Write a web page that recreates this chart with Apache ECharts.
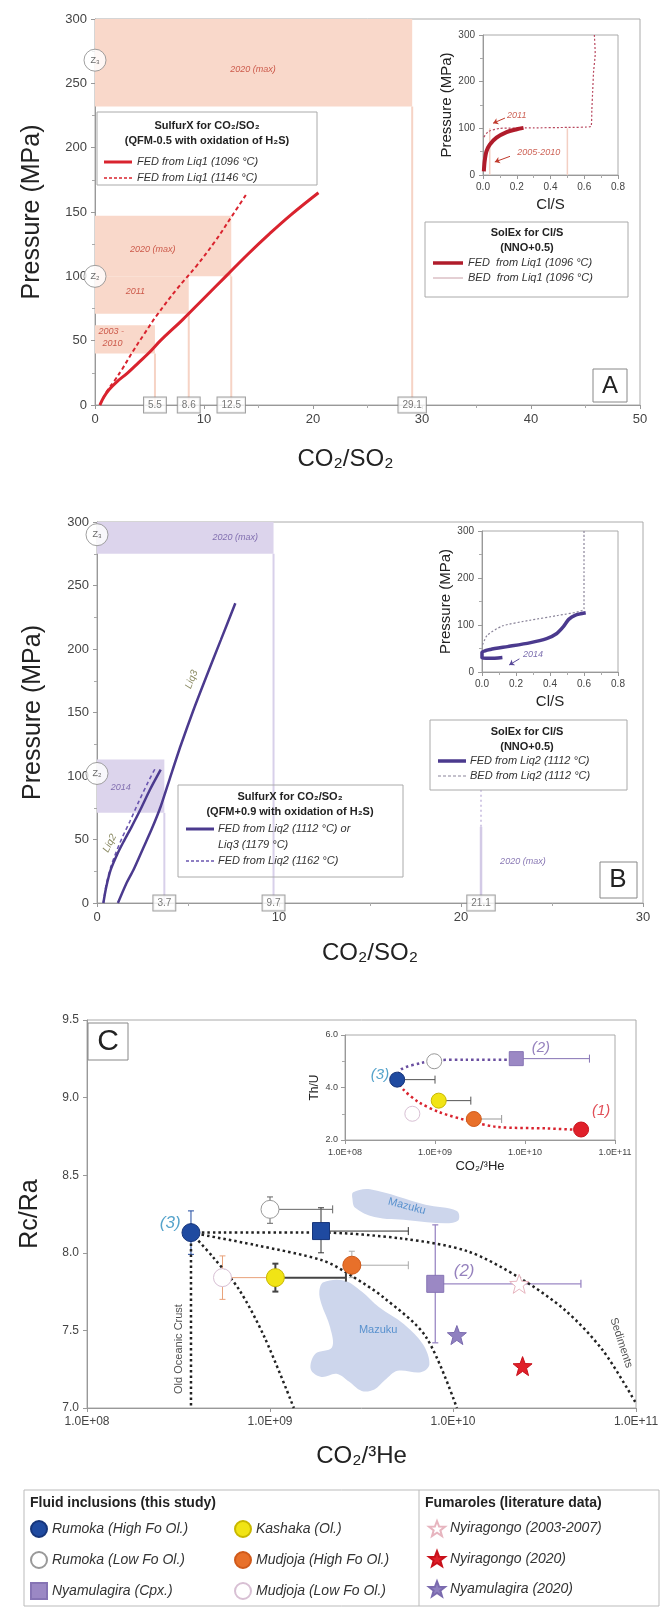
<!DOCTYPE html>
<html>
<head>
<meta charset="utf-8">
<title>SulfurX / SolEx / CO2-3He panels</title>
<script src="https://cdn.jsdelivr.net/npm/echarts@6.0.0/dist/echarts.min.js"></script>
<style>
  html, body { margin: 0; padding: 0; background: #fff; }
  #chart { width: 665px; height: 1608px; }
</style>
</head>
<body>
<div id="chart"></div>
<script>
  var FONT = '"Liberation Sans", Arial, sans-serif';

  // ---------- panel A : SulfurX CO2/SO2 (QFM-0.5) ----------
  var fedLiq1At1096 = [[0.45,0],[0.8,6],[1.3,12],[2,18],[3,25],[4,33],[5,41],[6,50],[8,66],[10,83],[12,100],[14,117],[16,133],[18,148],[20.5,165]];
  var fedLiq1At1146 = [[0.45,0],[0.8,6],[1.2,12],[1.8,19],[2.5,28],[3.5,42],[4.5,55],[5.7,70],[7.5,90],[9.3,108],[11,127],[12.5,146],[13.9,164]];
  // [x0, x1, pLow, pHigh]
  var eruptionBandsA = [[0,29.1,232,300],[0,12.5,100,147],[0,8.6,71,100],[0,5.5,40,62]];
  var ratioTicksA = [5.5, 8.6, 12.5, 29.1];
  var bandNotesA = [['2020 (max)',14.5,261],['2020 (max)',5.3,121],['2011',3.7,88],['2003 -',1.5,57],['2010',1.6,48]];
  var zLevelsA = [['Z₃',0,268],['Z₂',0,100]];

  // panel A inset : SolEx Cl/S
  var solexFedLiq1 = [[0.005,8],[0.01,30],[0.02,50],[0.04,65],[0.08,80],[0.14,92],[0.2,98],[0.24,101]];
  var solexBedLiq1 = [[0.66,300],[0.665,260],[0.655,220],[0.65,180],[0.645,140],[0.64,104],[0.5,102],[0.3,101],[0.1,100],[0.03,93],[0,78]];
  var clsObsA = [0.04, 0.5];
  var insetNotesA = [['2011',0.2,128],['2005-2010',0.33,49]];
  var insetArrowsA = [[[0.13,122],[0.06,111]],[[0.16,40],[0.07,28]]];

  // ---------- panel B : SulfurX CO2/SO2 (QFM+0.9) ----------
  var fedLiq2At1112 = [[0.35,0],[0.5,12],[0.75,26],[1.1,38],[1.45,48],[1.9,60],[2.4,74],[2.9,89],[3.5,105]];
  var fedLiq3At1179 = [[1.15,0],[1.6,15],[2.0,26],[2.5,42],[3.0,58],[3.5,76],[4.0,98],[4.6,124],[5.3,152],[6.0,178],[6.8,207],[7.6,236]];
  var fedLiq2At1162 = [[0.35,0],[0.5,14],[0.75,28],[1.05,40],[1.4,52],[1.8,64],[2.3,80],[2.8,95],[3.2,106]];
  var eruptionBandsB = [[0,9.7,275,300],[0,3.7,71,113]];
  var ratioTicksB = [3.7, 9.7, 21.1];
  var max2020B = [[21.1,0],[21.1,60]];
  var max2020BUpper = [[21.1,60],[21.1,100]];
  var bandNotesB = [['2020 (max)',7.6,288],['2014',1.3,91],['2020 (max)',23.4,33]];
  var zLevelsB = [['Z₃',0,290],['Z₂',0,102]];
  var curveNotesB = [['Liq2',0.7,47,63],['Liq3',5.2,176,69]];

  // panel B inset : SolEx Cl/S
  var solexFedLiq2 = [[0.12,31],[0.05,29],[0,30],[0,42],[0.05,48],[0.15,54],[0.28,62],[0.38,71],[0.44,82],[0.48,97],[0.51,112],[0.55,121],[0.61,126]];
  var solexBedLiq2 = [[0.6,300],[0.6,200],[0.6,135],[0.44,120],[0.28,110],[0.12,98],[0.03,78],[0,55]];
  var insetNotesB = [['2014',0.3,37]];
  var insetArrowsB = [[[0.22,28],[0.16,15]]];

  // ---------- panel C : Rc/Ra vs CO2/3He ----------
  var rumokaHigh = [[3.7e8,8.13]];
  var rumokaHighErr = [[3.7e8,8.13,3.7e8,3.7e8,7.99,8.27]];
  var rumokaCpx = [[1.9e9,8.14]];
  var rumokaCpxErr = [[1.9e9,8.14,1.9e9,5.7e9,8.0,8.29]];
  var rumokaLow = [[1.0e9,8.28]];
  var rumokaLowErr = [[1.0e9,8.28,1.0e9,2.2e9,8.19,8.36]];
  var kashaka = [[1.07e9,7.84]];
  var kashakaErr = [[1.07e9,7.84,1.07e9,2.6e9,7.75,7.93]];
  var mudjojaHigh = [[2.8e9,7.92]];
  var mudjojaHighErr = [[2.8e9,7.92,2.8e9,5.7e9,7.84,8.01]];
  var mudjojaLow = [[5.5e8,7.84]];
  var mudjojaLowErr = [[5.5e8,7.84,5.5e8,1.07e9,7.70,7.98]];
  var nyamuCpx = [[8e9,7.80]];
  var nyamuCpxErr = [[8e9,7.80,8e9,5e10,7.42,8.18]];
  var nyiraOld = [[2.3e10,7.80]];
  var nyira2020 = [[2.4e10,7.27]];
  var nyamu2020 = [[1.05e10,7.47]];

  var oldCrustMix = [[3.7e8,8.13],[3.7e8,7.0]];
  var mixSteep = [[3.7e8,8.13],[4.9e8,7.97],[6.8e8,7.76],[9.3e8,7.46],[1.35e9,7.0]];
  var mixMid = [[3.7e8,8.13],[8.3e8,8.05],[1.95e9,7.95],[2.8e9,7.85],[4.2e9,7.71],[7.1e9,7.46],[1.05e10,7.0]];
  var mixSediment = [[3.7e8,8.13],[1.9e9,8.13],[5.4e9,8.09],[1.2e10,8.01],[2.3e10,7.84],[4.1e10,7.63],[6.6e10,7.37],[1.0e11,7.03]];

  var mazukuUpper = [[2.85e9,8.39],[3.52e9,8.41],[7.08e9,8.31],[1.05e10,8.27],[1.07e10,8.21],[9.12e9,8.19],[5.69e9,8.21],[3.72e9,8.23],[2.92e9,8.29],[2.82e9,8.35]];
  var mazukuLower = [[1.96e9,7.81],[2.56e9,7.82],[3.17e9,7.75],[3.93e9,7.65],[5.40e9,7.54],[6.85e9,7.41],[7.43e9,7.28],[6.67e9,7.23],[4.98e9,7.24],[4.25e9,7.18],[3.72e9,7.12],[3.17e9,7.11],[2.70e9,7.17],[2.31e9,7.22],[1.91e9,7.20],[1.67e9,7.25],[1.77e9,7.35],[2.18e9,7.39],[2.13e9,7.52],[1.91e9,7.67],[1.86e9,7.75]];

  var fieldNotesC = [['Old Oceanic Crust',3.2e8,7.38,90],['Sediments',8.3e10,7.42,-72],['Mazuku',5.6e9,8.3,-15],['Mazuku',3.9e9,7.5,0]];
  var endMemberNotesC = [['(3)',2.85e8,8.19],['(2)',1.15e10,7.88]];

  // panel C inset : Th/U
  var rumokaHighIn = [[3.8e8,4.3]];
  var rumokaHighInErr = [[3.8e8,4.3,3.8e8,1.0e9,4.3,4.3]];
  var rumokaLowIn = [[9.8e8,5.0]];
  var nyamuCpxIn = [[8e9,5.1]];
  var nyamuCpxInErr = [[8e9,5.1,8e9,5.2e10,5.1,5.1]];
  var kashakaIn = [[1.1e9,3.5]];
  var kashakaInErr = [[1.1e9,3.5,1.1e9,2.5e9,3.5,3.5]];
  var mudjojaHighIn = [[2.7e9,2.8]];
  var mudjojaHighInErr = [[2.7e9,2.8,2.7e9,5.5e9,2.8,2.8]];
  var mudjojaLowIn = [[5.6e8,3.0]];
  var nyiraLavaIn = [[4.2e10,2.4]];
  var mixToCpxIn = [[3.8e8,4.3],[4.2e8,4.69],[7.2e8,4.94],[1.07e9,5.04],[2.24e9,5.06],[8.1e9,5.06]];
  var mixToLavaIn = [[3.8e8,4.3],[4.4e8,3.94],[6.6e8,3.44],[1.12e9,3.06],[2.24e9,2.75],[4.9e9,2.5],[1.78e10,2.44],[4.2e10,2.38]];
  var endMemberNotesIn = [['(3)',2.45e8,4.5],['(2)',1.5e10,5.5],['(1)',7e10,3.1]];

  var legendFluid1 = ['Rumoka (High Fo Ol.)','Rumoka (Low Fo Ol.)','Nyamulagira (Cpx.)'];
  var legendFluid2 = ['Kashaka (Ol.)','Mudjoja (High Fo Ol.)','Mudjoja (Low Fo Ol.)'];
  var legendFumaroles = ['Nyiragongo (2003-2007)','Nyiragongo (2020)','Nyamulagira (2020)'];

  var STAR = 'path://M12,1 L14.9,8.6 L23,8.9 L16.6,13.9 L18.9,21.8 L12,17.2 L5.1,21.8 L7.4,13.9 L1,8.9 L9.1,8.6 Z';
  var noteColors = {'(3)': '#2b8cbe', '(2)': '#7a62ad', '(1)': '#d9232e'};

  // ---------- helpers ----------
  function grid(left, top, width, height) {
    return {left: left, top: top, width: width, height: height, show: true, borderColor: '#aaa', borderWidth: 1,
      containLabel: false, outerBoundsMode: 'none'};
  }
  function valAxis(gi, min, max, interval, fs, extra) {
    var ax = {
      type: 'value', gridIndex: gi, min: min, max: max, interval: interval,
      axisLine: {show: true, onZero: false, lineStyle: {color: '#999'}},
      axisTick: {show: true, length: 4, lineStyle: {color: '#999'}},
      minorTick: {show: true, splitNumber: 2, length: 3, lineStyle: {color: '#aaa'}},
      splitLine: {show: false},
      axisLabel: {fontSize: fs, color: '#444', fontFamily: FONT, margin: 8}
    };
    for (var k in extra) ax[k] = extra[k];
    return ax;
  }
  function sciLabel(v) {
    var s = v.toExponential(1).toUpperCase();
    return s.replace(/E\+(\d+)$/, function (m, d) { return 'E+' + (d.length < 2 ? '0' + d : d); });
  }
  function logAxis(gi, fs, extra) {
    var ax = {
      type: 'log', logBase: 10, gridIndex: gi, min: 1e8, max: 1e11,
      axisLine: {show: true, onZero: false, lineStyle: {color: '#999'}},
      axisTick: {show: true, length: 4, lineStyle: {color: '#999'}},
      splitLine: {show: false},
      axisLabel: {fontSize: fs, color: '#444', fontFamily: FONT, formatter: sciLabel, margin: 8}
    };
    for (var k in extra) ax[k] = extra[k];
    return ax;
  }
  function axisName(text, fs, gap, pad) {
    return {name: text, nameLocation: 'middle', nameGap: gap,
      nameTextStyle: {fontSize: fs, color: '#222', fontFamily: FONT, padding: pad || 0}};
  }
  function curve(data, xi, yi, color, width, dash, smooth) {
    return {type: 'line', xAxisIndex: xi, yAxisIndex: yi, data: data, symbol: 'none', silent: true, z: 3,
      smooth: smooth === undefined ? 0.25 : smooth, clip: false,
      lineStyle: {color: color, width: width, type: dash || 'solid'}};
  }
  function bands(rows, xi, yi, fill, edge) {
    return {type: 'custom', xAxisIndex: xi, yAxisIndex: yi, silent: true, z: 1, data: rows,
      renderItem: function (params, api) {
        var a = api.coord([api.value(0), api.value(3)]);
        var b = api.coord([api.value(1), api.value(2)]);
        var base = api.coord([api.value(1), 0]);
        return {type: 'group', children: [
          {type: 'rect', shape: {x: a[0], y: a[1], width: b[0] - a[0], height: b[1] - a[1]}, style: {fill: fill}},
          {type: 'line', shape: {x1: b[0], y1: b[1], x2: base[0], y2: base[1]}, style: {stroke: edge, lineWidth: 2}}
        ]};
      }};
  }
  function vlines(vals, top, xi, yi, color, width) {
    return {type: 'custom', xAxisIndex: xi, yAxisIndex: yi, silent: true, z: 1,
      data: vals.map(function (v) { return [v, top]; }),
      renderItem: function (params, api) {
        var a = api.coord([api.value(0), api.value(1)]);
        var b = api.coord([api.value(0), 0]);
        return {type: 'line', shape: {x1: a[0], y1: a[1], x2: b[0], y2: b[1]}, style: {stroke: color, lineWidth: width}};
      }};
  }
  function labelsOnly(rows, xi, yi, label, colorMap) {
    return {type: 'scatter', xAxisIndex: xi, yAxisIndex: yi, silent: true, z: 7, symbolSize: 1, clip: false,
      itemStyle: {color: 'rgba(0,0,0,0)'},
      data: rows.map(function (r) {
        var item = {name: r[0], value: [r[1], r[2]]};
        var l = {};
        if (r.length > 3) l.rotate = r[3];
        if (colorMap && colorMap[r[0]]) l.color = colorMap[r[0]];
        item.label = l;
        return item;
      }),
      label: Object.assign({show: true, position: 'inside', formatter: '{b}', fontFamily: FONT}, label)};
  }
  function ratioBoxes(vals, xi, yi) {
    return {type: 'scatter', xAxisIndex: xi, yAxisIndex: yi, silent: true, z: 8, symbolSize: 1, clip: false,
      itemStyle: {color: 'rgba(0,0,0,0)'},
      data: vals.map(function (v) { return [v, 0]; }),
      label: {show: true, position: 'inside', formatter: function (p) { return String(p.value[0]); },
        fontSize: 10, color: '#555', fontFamily: FONT, backgroundColor: '#fff', borderColor: '#888', borderWidth: 1,
        padding: [3, 4, 2, 4]}};
  }
  function zMarks(rows, xi, yi) {
    return {type: 'scatter', xAxisIndex: xi, yAxisIndex: yi, silent: true, z: 8, symbol: 'circle', symbolSize: 22, clip: false,
      itemStyle: {color: '#fff', borderColor: '#888', borderWidth: 1},
      data: rows.map(function (r) { return {name: r[0], value: [r[1], r[2]]}; }),
      label: {show: true, position: 'inside', formatter: '{b}', fontSize: 9, color: '#444', fontFamily: FONT}};
  }
  function arrows(list, xi, yi, color) {
    return {type: 'line', xAxisIndex: xi, yAxisIndex: yi, data: [], silent: true,
      markLine: {silent: true, symbol: ['none', 'arrow'], symbolSize: 5, label: {show: false},
        lineStyle: {color: color, width: 1, type: 'solid'},
        data: list.map(function (s) { return [{coord: s[0]}, {coord: s[1]}]; })}};
  }
  function errorBars(rows, xi, yi, color, width) {
    return {type: 'custom', xAxisIndex: xi, yAxisIndex: yi, silent: true, z: 3, data: rows,
      renderItem: function (params, api) {
        var x = api.value(0), y = api.value(1);
        var c = api.coord([x, y]);
        var a = api.coord([api.value(2), y]), b = api.coord([api.value(3), y]);
        var lo = api.coord([x, api.value(4)]), hi = api.coord([x, api.value(5)]);
        var st = {stroke: color, lineWidth: width || 1};
        var kids = [];
        function seg(x1, y1, x2, y2) { kids.push({type: 'line', shape: {x1: x1, y1: y1, x2: x2, y2: y2}, style: st}); }
        if (b[0] - a[0] > 1) {
          seg(a[0], a[1], b[0], b[1]);
          if (c[0] - a[0] > 1) seg(a[0], a[1] - 4, a[0], a[1] + 4);
          if (b[0] - c[0] > 1) seg(b[0], b[1] - 4, b[0], b[1] + 4);
        }
        if (lo[1] - hi[1] > 1) {
          seg(lo[0], lo[1], hi[0], hi[1]);
          seg(lo[0] - 3, lo[1], lo[0] + 3, lo[1]);
          seg(hi[0] - 3, hi[1], hi[0] + 3, hi[1]);
        }
        return {type: 'group', children: kids};
      }};
  }
  function blob(points, xi, yi, fill) {
    return {type: 'custom', xAxisIndex: xi, yAxisIndex: yi, silent: true, z: 1, data: [points[0]],
      renderItem: function (params, api) {
        return {type: 'polygon', shape: {points: points.map(function (p) { return api.coord(p); }), smooth: 0.35},
          style: {fill: fill}};
      }};
  }
  function pts(name, data, xi, yi, symbol, size, fill, border) {
    return {name: name, type: 'scatter', xAxisIndex: xi, yAxisIndex: yi, data: data, symbol: symbol, symbolSize: size,
      z: 5, silent: true, clip: false, itemStyle: {color: fill, borderColor: border, borderWidth: 1, opacity: 1}};
  }
  function gText(x, y, text, font, fill, align) {
    return {type: 'text', x: x, y: y, z: 100, silent: true,
      style: {text: text, font: font, fill: fill || '#222', align: align || 'center', verticalAlign: 'middle'}};
  }
  function gLine(x1, y1, x2, y2, stroke, w, dash) {
    return {type: 'line', z: 100, silent: true, shape: {x1: x1, y1: y1, x2: x2, y2: y2},
      style: {stroke: stroke, lineWidth: w, lineDash: dash || null}};
  }
  function gRect(x, y, w, h, stroke, fill, lw) {
    return {type: 'rect', z: 99, silent: true, shape: {x: x, y: y, width: w, height: h},
      style: {stroke: stroke, fill: fill || 'rgba(0,0,0,0)', lineWidth: lw || 1}};
  }

  var RED = '#d9232e', DARKRED = '#b01c2b', PURPLE = '#4b3a8e', SALMON = '#f9d8ca', LAV = '#dcd4ec';
  var B11 = 'bold 11px ' + FONT, I11 = 'italic 11px ' + FONT;

  var chart = echarts.init(document.getElementById('chart'));
  chart.setOption({
    animation: false,
    backgroundColor: '#fff',
    textStyle: {fontFamily: FONT},
    grid: [
      grid(95, 19, 545, 386),
      grid(483, 35, 135, 140),
      grid(97, 522, 546, 381),
      grid(482, 531, 136, 141),
      grid(87, 1020, 549, 388),
      grid(345, 1035, 270, 105)
    ],
    xAxis: [
      valAxis(0, 0, 50, 10, 13, axisName('CO₂/SO₂', 24, 42, [0, 44, 0, 0])),
      valAxis(1, 0, 0.8, 0.2, 10, Object.assign(axisName('Cl/S', 15, 22), {
        axisLabel: {fontSize: 10, color: '#444', fontFamily: FONT, margin: 7, formatter: function (v) { return v.toFixed(1); }}})),
      valAxis(2, 0, 30, 10, 13, axisName('CO₂/SO₂', 24, 38)),
      valAxis(3, 0, 0.8, 0.2, 10, Object.assign(axisName('Cl/S', 15, 22), {
        axisLabel: {fontSize: 10, color: '#444', fontFamily: FONT, margin: 7, formatter: function (v) { return v.toFixed(1); }}})),
      logAxis(4, 12, axisName('CO₂/³He', 24, 36)),
      logAxis(5, 9, axisName('CO₂/³He', 13, 20))
    ],
    yAxis: [
      valAxis(0, 0, 300, 50, 13, axisName('Pressure (MPa)', 25, 50)),
      valAxis(1, 0, 300, 100, 10, axisName('Pressure (MPa)', 15, 28)),
      valAxis(2, 0, 300, 50, 13, axisName('Pressure (MPa)', 25, 51)),
      valAxis(3, 0, 300, 100, 10, axisName('Pressure (MPa)', 15, 28)),
      valAxis(4, 7, 9.5, 0.5, 12, Object.assign(axisName('Rc/Ra', 25, 44), {
        minorTick: {show: false},
        axisLabel: {fontSize: 12, color: '#444', fontFamily: FONT, margin: 8, formatter: function (v) { return v.toFixed(1); }}})),
      valAxis(5, 2, 6, 2, 9, Object.assign(axisName('Th/U', 12, 24), {
        axisLabel: {fontSize: 9, color: '#444', fontFamily: FONT, margin: 7, formatter: function (v) { return v.toFixed(1); }}}))
    ],
    legend: [
      {left: 30, top: 1520, orient: 'vertical', data: legendFluid1},
      {left: 234, top: 1520, orient: 'vertical', data: legendFluid2},
      {left: 428, top: 1520, orient: 'vertical', data: legendFumaroles}
    ].map(function (l) {
      return Object.assign(l, {itemWidth: 16, itemHeight: 16, itemGap: 13, padding: 0, selectedMode: false,
        textStyle: {fontSize: 14, fontStyle: 'italic', color: '#333', fontFamily: FONT}});
    }),
    series: [
      // ---- A main
      bands(eruptionBandsA, 0, 0, SALMON, '#f6d3c5'),
      curve(fedLiq1At1146, 0, 0, RED, 2, [4, 3], 0.4),
      curve(fedLiq1At1096, 0, 0, RED, 3, null, 0.4),
      labelsOnly(bandNotesA, 0, 0, {fontSize: 9, fontStyle: 'italic', color: '#c0392b'}),
      ratioBoxes(ratioTicksA, 0, 0),
      zMarks(zLevelsA, 0, 0),
      // ---- A inset
      vlines(clsObsA, 100, 1, 1, '#f3cfc3', 1.5),
      curve(solexBedLiq1, 1, 1, '#b8475e', 1.2, [2, 2], 0.15),
      curve(solexFedLiq1, 1, 1, DARKRED, 4, null, 0.3),
      labelsOnly(insetNotesA, 1, 1, {fontSize: 9, fontStyle: 'italic', color: '#c0392b'}),
      arrows(insetArrowsA, 1, 1, '#c0392b'),
      // ---- B main
      bands(eruptionBandsB, 2, 2, LAV, '#d8d0ea'),
      curve(max2020B, 2, 2, '#d3cae6', 2.5, 'solid', 0),
      curve(max2020BUpper, 2, 2, '#d3cae6', 2, [2, 3], 0),
      curve(fedLiq2At1162, 2, 2, '#6a55b0', 1.6, [4, 3]),
      curve(fedLiq2At1112, 2, 2, PURPLE, 2.5),
      curve(fedLiq3At1179, 2, 2, PURPLE, 2.5),
      labelsOnly(bandNotesB, 2, 2, {fontSize: 9, fontStyle: 'italic', color: '#6a55a0'}),
      labelsOnly(curveNotesB, 2, 2, {fontSize: 10, fontStyle: 'italic', color: '#6b6b3a'}),
      ratioBoxes(ratioTicksB, 2, 2),
      zMarks(zLevelsB, 2, 2),
      // ---- B inset
      curve(solexBedLiq2, 3, 3, '#8a8499', 1.2, [2, 2], 0.2),
      curve(solexFedLiq2, 3, 3, PURPLE, 3.5, null, 0.2),
      labelsOnly(insetNotesB, 3, 3, {fontSize: 9, fontStyle: 'italic', color: '#5a4a9a'}),
      arrows(insetArrowsB, 3, 3, '#5a4a9a'),
      // ---- C main
      blob(mazukuUpper, 4, 4, '#cdd6ec'),
      blob(mazukuLower, 4, 4, '#cdd6ec'),
      curve(oldCrustMix, 4, 4, '#222', 2.5, [2.5, 3], 0),
      curve(mixSteep, 4, 4, '#222', 2.5, [2.5, 3], 0.3),
      curve(mixMid, 4, 4, '#222', 2.5, [2.5, 3], 0.3),
      curve(mixSediment, 4, 4, '#222', 2.5, [2.5, 3], 0.3),
      errorBars(rumokaHighErr, 4, 4, '#1f4aa0'),
      errorBars(rumokaCpxErr, 4, 4, '#333'),
      errorBars(rumokaLowErr, 4, 4, '#666'),
      errorBars(mudjojaLowErr, 4, 4, '#e9a27a'),
      errorBars(kashakaErr, 4, 4, '#444', 2),
      errorBars(mudjojaHighErr, 4, 4, '#aaa'),
      errorBars(nyamuCpxErr, 4, 4, '#9b88c4', 1.3),
      pts('Rumoka (High Fo Ol.)', rumokaHigh, 4, 4, 'circle', 18, '#1f4aa0', '#16357a'),
      pts('Rumoka (Cpx.)', rumokaCpx, 4, 4, 'rect', 17, '#1f4aa0', '#16357a'),
      pts('Rumoka (Low Fo Ol.)', rumokaLow, 4, 4, 'circle', 18, '#fff', '#999'),
      pts('Kashaka (Ol.)', kashaka, 4, 4, 'circle', 18, '#f1e415', '#c9b800'),
      pts('Mudjoja (High Fo Ol.)', mudjojaHigh, 4, 4, 'circle', 18, '#e8702a', '#d05a1a'),
      pts('Mudjoja (Low Fo Ol.)', mudjojaLow, 4, 4, 'circle', 18, '#fff', '#d8c0d4'),
      pts('Nyamulagira (Cpx.)', nyamuCpx, 4, 4, 'rect', 17, '#9b88c4', '#8674b4'),
      pts('Nyiragongo (2003-2007)', nyiraOld, 4, 4, STAR, 19, '#fff', '#e7b5bf'),
      pts('Nyiragongo (2020)', nyira2020, 4, 4, STAR, 19, '#e0202a', '#c8101a'),
      pts('Nyamulagira (2020)', nyamu2020, 4, 4, STAR, 19, '#8f80c0', '#7a6aae'),
      labelsOnly(fieldNotesC, 4, 4, {fontSize: 11, color: '#222'}, {'Mazuku': '#3b7fc6'}),
      labelsOnly(endMemberNotesC, 4, 4, {fontSize: 17, fontStyle: 'italic'}, noteColors),
      // ---- C inset
      curve(mixToCpxIn, 5, 5, '#6a4fa0', 2.5, [2.5, 3], 0.3),
      curve(mixToLavaIn, 5, 5, RED, 2.5, [2.5, 3], 0.3),
      errorBars(rumokaHighInErr, 5, 5, '#555'),
      errorBars(kashakaInErr, 5, 5, '#555'),
      errorBars(mudjojaHighInErr, 5, 5, '#999'),
      errorBars(nyamuCpxInErr, 5, 5, '#8674b4'),
      pts('Rumoka (High Fo Ol.)', rumokaHighIn, 5, 5, 'circle', 15, '#1f4aa0', '#16357a'),
      pts('Rumoka (Low Fo Ol.)', rumokaLowIn, 5, 5, 'circle', 15, '#fff', '#999'),
      pts('Nyamulagira (Cpx.)', nyamuCpxIn, 5, 5, 'rect', 14, '#9b88c4', '#8674b4'),
      pts('Kashaka (Ol.)', kashakaIn, 5, 5, 'circle', 15, '#f1e415', '#c9b800'),
      pts('Mudjoja (High Fo Ol.)', mudjojaHighIn, 5, 5, 'circle', 15, '#e8702a', '#d05a1a'),
      pts('Mudjoja (Low Fo Ol.)', mudjojaLowIn, 5, 5, 'circle', 15, '#fff', '#d8c0d4'),
      pts('Nyiragongo lava', nyiraLavaIn, 5, 5, 'circle', 15, '#e0202a', '#c8101a'),
      labelsOnly(endMemberNotesIn, 5, 5, {fontSize: 15, fontStyle: 'italic'}, noteColors)
    ],
    graphic: [
      // A legend
      gRect(97, 112, 220, 73, '#aaa', '#fff'),
      gText(207, 126, 'SulfurX for CO₂/SO₂', B11),
      gText(207, 141, '(QFM-0.5 with oxidation of H₂S)', B11),
      gLine(104, 162, 132, 162, RED, 3),
      gText(137, 162, 'FED from Liq1 (1096 °C)', I11, '#333', 'left'),
      gLine(104, 178, 132, 178, RED, 1.5, [3, 2]),
      gText(137, 178, 'FED from Liq1 (1146 °C)', I11, '#333', 'left'),
      // A inset legend
      gRect(425, 222, 203, 75, '#aaa', '#fff'),
      gText(527, 233, 'SolEx for Cl/S', B11),
      gText(527, 248, '(NNO+0.5)', B11),
      gLine(433, 263, 463, 263, DARKRED, 3.5),
      gText(468, 263, 'FED  from Liq1 (1096 °C)', I11, '#333', 'left'),
      gLine(433, 278, 463, 278, '#c9a0a8', 1),
      gText(468, 278, 'BED  from Liq1 (1096 °C)', I11, '#333', 'left'),
      // A label
      gRect(593, 369, 34, 33, '#888', '#fff'),
      gText(610, 386, 'A', '24px ' + FONT),
      // B legend
      gRect(178, 785, 225, 92, '#aaa'),
      gText(290, 797, 'SulfurX for CO₂/SO₂', B11),
      gText(290, 812, '(QFM+0.9 with oxidation of H₂S)', B11),
      gLine(186, 829, 214, 829, PURPLE, 3),
      gText(218, 829, 'FED from Liq2 (1112 °C) or', I11, '#333', 'left'),
      gText(218, 845, 'Liq3 (1179 °C)', I11, '#333', 'left'),
      gLine(186, 861, 214, 861, '#6a55b0', 1.5, [3, 2]),
      gText(218, 861, 'FED from Liq2 (1162 °C)', I11, '#333', 'left'),
      // B inset legend
      gRect(430, 720, 197, 70, '#aaa', '#fff'),
      gText(527, 732, 'SolEx for Cl/S', B11),
      gText(527, 747, '(NNO+0.5)', B11),
      gLine(438, 761, 466, 761, PURPLE, 3.5),
      gText(470, 761, 'FED from Liq2 (1112 °C)', I11, '#333', 'left'),
      gLine(438, 776, 466, 776, '#8a8499', 1.2, [3, 2]),
      gText(470, 776, 'BED from Liq2 (1112 °C)', I11, '#333', 'left'),
      // B label
      gRect(600, 862, 37, 36, '#888', '#fff'),
      gText(618, 880, 'B', '26px ' + FONT),
      // C label
      gRect(88, 1023, 40, 37, '#888', '#fff'),
      gText(108, 1042, 'C', '30px ' + FONT),
      // C legend frame
      gRect(24, 1490, 635, 116, '#bbb'),
      gLine(419, 1490, 419, 1606, '#bbb', 1),
      gText(30, 1503, 'Fluid inclusions (this study)', 'bold 14px ' + FONT, '#222', 'left'),
      gText(425, 1503, 'Fumaroles (literature data)', 'bold 14px ' + FONT, '#222', 'left')
    ]
  });
</script>
</body>
</html>
